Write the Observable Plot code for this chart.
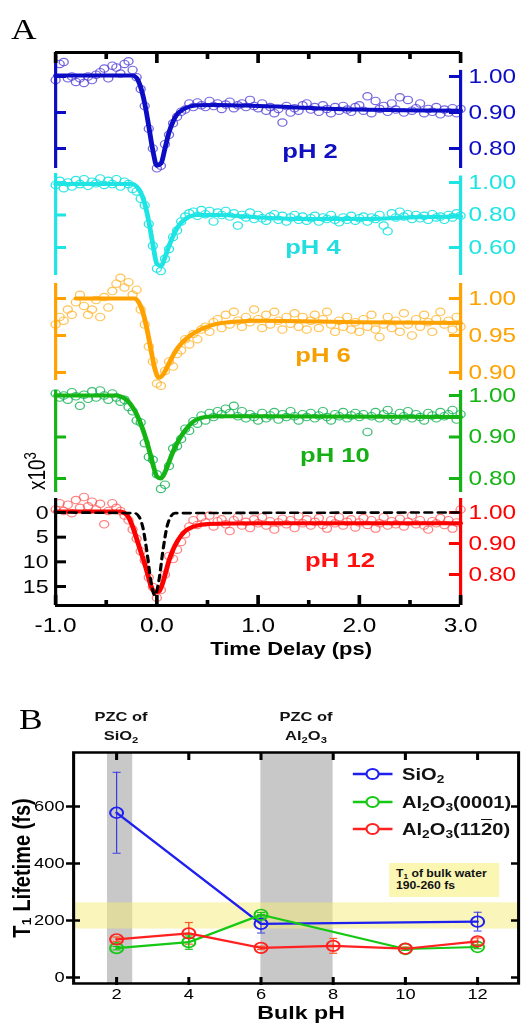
<!DOCTYPE html>
<html><head><meta charset="utf-8">
<script src="https://cdn.jsdelivr.net/npm/d3@7"></script>
<script src="https://cdn.jsdelivr.net/npm/@observablehq/plot@0.6"></script>
<style>
html,body{margin:0;padding:0;background:#fff;overflow:hidden;}
#fig{position:relative;width:428.69px;height:1027px;transform:scaleX(1.22);transform-origin:0 0;font-family:"Liberation Sans",Arial,Helvetica,sans-serif;}
.lbl{position:absolute;white-space:nowrap;}
sub{font-size:0.68em;vertical-align:-0.3em;line-height:0;}
sup{font-size:0.7em;vertical-align:0.55em;line-height:0;}
</style></head>
<body><div id="fig"></div>
<script>
// ---------------- DATA ----------------
const times = [-1.00,-0.96,-0.92,-0.88,-0.84,-0.80,-0.76,-0.72,-0.68,-0.64,
-0.60,-0.56,-0.52,-0.48,-0.44,-0.40,-0.36,-0.32,-0.28,-0.24,
-0.20,-0.16,-0.12,-0.08,-0.04,0.00,0.04,0.08,0.12,0.16,
0.20,0.24,0.28,0.32,0.36,0.40,0.44,0.48,0.52,0.56,
0.60,0.64,0.68,0.72,0.76,0.80,0.84,0.88,0.92,0.96,
1.00,1.04,1.08,1.12,1.16,1.20,1.24,1.28,1.32,1.36,
1.40,1.44,1.48,1.52,1.56,1.60,1.64,1.68,1.72,1.76,
1.80,1.84,1.88,1.92,1.96,2.00,2.04,2.08,2.12,2.16,
2.20,2.24,2.28,2.32,2.36,2.40,2.44,2.48,2.52,2.56,
2.60,2.64,2.68,2.72,2.76,2.80,2.84,2.88,2.92,2.96,
3.00];

const ph2Data = [0.990,1.035,1.040,0.995,1.000,0.985,0.995,0.982,1.000,0.990,
1.005,1.012,1.022,0.995,1.030,1.025,1.008,1.035,1.042,1.018,
0.998,0.965,0.918,0.855,0.800,0.745,0.752,0.812,0.838,0.870,
0.888,0.902,0.908,0.925,0.915,0.928,0.920,0.915,0.932,0.918,
0.925,0.910,0.922,0.930,0.912,0.920,0.925,0.915,0.935,0.918,
0.912,0.925,0.905,0.915,0.898,0.910,0.872,0.918,0.900,0.912,
0.905,0.920,0.925,0.908,0.915,0.902,0.920,0.910,0.898,0.915,
0.905,0.918,0.908,0.902,0.915,0.920,0.905,0.945,0.898,0.932,
0.910,0.918,0.902,0.925,0.908,0.942,0.900,0.935,0.905,0.912,
0.925,0.898,0.910,0.902,0.915,0.895,0.908,0.900,0.912,0.898,
0.910];
const ph4Data = [0.985,1.010,0.965,1.000,0.975,1.015,0.990,1.020,0.980,1.005,
0.995,1.025,0.985,1.010,0.990,1.020,0.975,1.005,0.990,0.960,
0.945,0.900,0.860,0.745,0.610,0.470,0.455,0.530,0.590,0.665,
0.705,0.760,0.790,0.810,0.820,0.795,0.830,0.805,0.825,0.760,
0.815,0.800,0.825,0.790,0.810,0.735,0.800,0.785,0.815,0.775,
0.800,0.780,0.765,0.790,0.805,0.770,0.795,0.760,0.785,0.800,
0.770,0.790,0.765,0.780,0.795,0.760,0.785,0.775,0.800,0.770,
0.755,0.785,0.770,0.795,0.765,0.780,0.790,0.760,0.785,0.775,
0.800,0.735,0.700,0.810,0.785,0.820,0.790,0.805,0.775,0.800,
0.780,0.795,0.770,0.805,0.785,0.790,0.770,0.800,0.785,0.810,
0.795];
const ph6Data = [0.965,0.975,0.970,0.985,0.978,0.995,1.005,0.990,0.978,0.985,
0.998,0.975,1.002,0.988,1.010,1.020,1.028,1.015,1.022,1.005,
1.012,0.985,0.965,0.935,0.915,0.885,0.882,0.902,0.915,0.908,
0.925,0.930,0.945,0.938,0.952,0.945,0.958,0.962,0.955,0.968,
0.972,0.960,0.978,0.965,0.982,0.970,0.962,0.975,0.968,0.985,
0.972,0.960,0.978,0.965,0.982,0.970,0.958,0.975,0.966,0.980,
0.962,0.975,0.958,0.970,0.978,0.960,0.972,0.982,0.965,0.955,
0.970,0.962,0.975,0.958,0.968,0.955,0.972,0.962,0.978,0.958,
0.948,0.965,0.975,0.960,0.970,0.955,0.980,0.965,0.950,0.972,
0.962,0.978,0.968,0.955,0.972,0.982,0.965,0.970,0.958,0.975,
0.962];
const ph10Data = [1.005,0.995,1.000,0.990,1.008,0.998,0.975,1.002,0.992,1.010,
0.995,1.012,1.000,0.990,1.005,0.995,0.985,0.990,0.972,0.962,
0.940,0.935,0.885,0.852,0.845,0.810,0.775,0.785,0.830,0.872,
0.878,0.895,0.920,0.915,0.938,0.932,0.952,0.940,0.958,0.948,
0.962,0.955,0.968,0.958,0.975,0.950,0.962,0.945,0.955,0.948,
0.940,0.958,0.945,0.952,0.960,0.942,0.955,0.948,0.962,0.950,
0.940,0.955,0.948,0.958,0.945,0.952,0.962,0.948,0.940,0.955,
0.950,0.960,0.945,0.952,0.958,0.948,0.955,0.912,0.950,0.960,
0.945,0.955,0.965,0.948,0.940,0.958,0.950,0.962,0.945,0.955,
0.948,0.940,0.958,0.952,0.945,0.960,0.950,0.955,0.965,0.942,
0.955];
const ph12Data = [1.010,1.030,1.005,1.025,0.998,1.040,1.015,1.050,1.020,1.035,
1.010,1.028,0.962,1.005,1.030,1.015,1.005,0.990,0.975,0.945,
0.915,0.875,0.845,0.790,0.760,0.725,0.750,0.800,0.860,0.850,
0.880,0.905,0.930,0.955,0.975,0.960,0.985,0.968,0.990,0.955,
0.972,0.978,0.962,0.940,0.975,0.985,0.958,0.970,0.950,0.978,
0.965,0.985,0.958,0.972,0.945,0.968,0.980,0.962,0.975,0.950,
0.988,0.965,0.978,0.958,0.970,0.982,0.960,0.948,0.975,0.965,
0.985,0.958,0.970,0.978,0.952,0.968,0.982,0.960,0.975,0.948,
0.965,0.985,0.958,0.972,0.962,0.980,0.955,0.970,0.990,0.962,
0.975,0.958,0.945,0.972,0.965,0.982,0.960,0.975,0.948,0.968,
1.010];

// fitted curves (knots)
const fit2T = [-1,-0.24,-0.2,-0.16,-0.12,-0.08,-0.04,0,0.04,0.08,0.12,0.16,0.2,0.24,0.28,0.32,0.4,0.6,1.0,2.0,3.0];
const fit2V = [1.003,1.003,0.996,0.97,0.925,0.862,0.795,0.752,0.758,0.80,0.845,0.875,0.895,0.905,0.912,0.916,0.92,0.921,0.918,0.908,0.905];
const fit4T = [-1,-0.24,-0.2,-0.16,-0.12,-0.08,-0.04,0,0.04,0.08,0.12,0.16,0.2,0.24,0.28,0.32,0.4,0.6,1.0,1.5,2.0,2.5,3.0];
const fit4V = [0.99,0.99,0.975,0.94,0.87,0.76,0.62,0.5,0.485,0.54,0.61,0.67,0.72,0.752,0.775,0.79,0.80,0.80,0.785,0.775,0.775,0.785,0.79];
const fit6T = [-0.8,-0.22,-0.18,-0.14,-0.1,-0.06,-0.02,0.02,0.06,0.1,0.14,0.2,0.26,0.32,0.4,0.5,0.6,0.8,1.0,2.0,3.0];
const fit6V = [1.0,1.0,0.995,0.982,0.96,0.932,0.905,0.893,0.897,0.907,0.918,0.932,0.942,0.949,0.956,0.962,0.966,0.969,0.97,0.968,0.967];
const fit10T = [-1,-0.4,-0.36,-0.32,-0.28,-0.24,-0.2,-0.16,-0.12,-0.08,-0.04,0,0.04,0.08,0.12,0.16,0.2,0.24,0.28,0.32,0.36,0.4,0.48,0.6,1.0,3.0];
const fit10V = [1.0,1.0,0.998,0.993,0.985,0.972,0.955,0.932,0.905,0.872,0.835,0.805,0.80,0.815,0.84,0.865,0.885,0.902,0.916,0.928,0.937,0.943,0.948,0.95,0.95,0.948];
const fit12T = [-1,-0.36,-0.32,-0.28,-0.24,-0.21,-0.17,-0.13,-0.09,-0.06,-0.02,0.02,0.06,0.09,0.12,0.16,0.2,0.24,0.28,0.32,0.4,0.5,1.0,3.0];
const fit12V = [1.003,1.003,0.998,0.985,0.955,0.926,0.885,0.845,0.80,0.765,0.742,0.745,0.775,0.81,0.845,0.88,0.906,0.926,0.94,0.949,0.958,0.963,0.965,0.965];
// instrument response (dashed, left axis x10^3)
const irfT = [-1,-0.22,-0.18,-0.14,-0.10,-0.06,-0.02,0.02,0.06,0.10,0.14,0.18,3];
const irfV = [0,0.13,0.74,2.9,7.7,13.8,16.8,13.8,7.7,2.9,0.74,0.13,0];

const timeTicksMajor = [-1,0,1,2,3];
const timeTickLabels = ["-1.0","0.0","1.0","2.0","3.0"];
const timeTicksMinor = [-0.5,0.5,1.5,2.5];

// Panel B
const sio2PH = [2,6,12];
const sio2T1 = [578,188,196];
const sio2Err = [142,32,33];
const a0001PH = [2,4,6,10,12];
const a0001T1 = [103,124,220,100,107];
const a0001Err = [6,25,8,5,6];
const a1120PH = [2,4,6,8,10,12];
const a1120T1 = [134,155,104,111,101,127];
const a1120Err = [8,38,6,26,6,12];
const pzcLo = [1.75,6];
const pzcHi = [2.45,8];
const bulkLo = 170, bulkHi = 262;
const phTicks = [2,4,6,8,10,12];
const t1Ticks = [0,200,400,600];

// ---------------- LAYOUT ----------------
const fig = document.getElementById("fig");
const S = 1.22;
const W = 523 / S;
const X = px => px / S;
const FONT = '"Liberation Sans", Arial, Helvetica, sans-serif';
const AX_L = 55, AX_R = 460;
const innerA = X(AX_R - AX_L);
const svgStyle = {background: "transparent", overflow: "visible", fontFamily: FONT, position: "absolute", left: "0px"};

function place(svg, top) { svg.style.top = top + "px"; fig.appendChild(svg); }
function html(str, css) { const d = document.createElement("div"); d.className = "lbl"; d.innerHTML = str; Object.assign(d.style, css); fig.appendChild(d); return d; }

function subPanel(p) {
  const pad = 30;
  const rows = times.map((t, i) => ({t, v: p.data[i]}));
  const fit = p.fitT.map((t, i) => ({t, v: p.fitV[i]}));
  const tk = p.ticks.map((v, i) => ({v, s: p.tickText[i]}));
  const tl = X(11);
  const marks = [
    Plot.dot(rows, {x: "t", y: "v", r: 3.7, stroke: p.dot, strokeOpacity: p.dotOpacity, strokeWidth: 1.1, fill: "none"}),
    Plot.line(fit, {x: "t", y: "v", stroke: p.color, strokeWidth: 4, curve: "monotone-x"}),
    Plot.ruleX([{x: 3, y1: p.rightTop, y2: p.lo}], {x: "x", y1: "y1", y2: "y2", stroke: p.color, strokeWidth: 2.6}),
    Plot.tickY(tk, {y: "v", stroke: p.color, strokeWidth: 3, insetLeft: innerA - tl}),
    Plot.text(tk, {y: "v", text: "s", frameAnchor: "right", dx: X(8), textAnchor: "start", fill: p.color, fontSize: 20})
  ];
  if (p.leftAxis) marks.push(
    Plot.ruleX([-1], {stroke: p.color, strokeWidth: 2.6}),
    Plot.tickY(tk, {y: "v", stroke: p.color, strokeWidth: 3, insetRight: innerA - tl})
  );
  const svg = Plot.plot({
    width: W, height: p.bottom - p.top + 2 * pad,
    marginTop: pad, marginBottom: pad, marginLeft: X(AX_L), marginRight: W - X(AX_R),
    x: {domain: [-1, 3], axis: null},
    y: {domain: [p.lo, p.hi], axis: null},
    style: svgStyle,
    marks
  });
  place(svg, p.top - pad);
}

subPanel({top: 55, bottom: 168, lo: 0.7444, hi: 1.0583, rightTop: 1.017, data: ph2Data, fitT: fit2T, fitV: fit2V,
  color: "#0c0cc4", dot: "#5444d8", dotOpacity: 0.8, ticks: [1.0, 0.9, 0.8], tickText: ["1.00","0.90","0.80"], leftAxis: true});
subPanel({top: 173, bottom: 275, lo: 0.4277, hi: 1.0554, rightTop: 1.04, data: ph4Data, fitT: fit4T, fitV: fit4V,
  color: "#1ee4e4", dot: "#1ee4e4", dotOpacity: 0.95, ticks: [1.0, 0.8, 0.6], tickText: ["1.00","0.80","0.60"], leftAxis: true});
subPanel({top: 283, bottom: 380, lo: 0.8892, hi: 1.0203, rightTop: 1.0203, data: ph6Data, fitT: fit6T, fitV: fit6V,
  color: "#ffa200", dot: "#ffb020", dotOpacity: 0.75, ticks: [1.0, 0.95, 0.9], tickText: ["1.00","0.95","0.90"], leftAxis: true});
subPanel({top: 390, bottom: 492, lo: 0.7663, hi: 1.012, rightTop: 1.012, data: ph10Data, fitT: fit10T, fitV: fit10V,
  color: "#14b414", dot: "#1cb45a", dotOpacity: 0.85, ticks: [1.0, 0.9, 0.8], tickText: ["1.00","0.90","0.80"], leftAxis: true});
subPanel({top: 498, bottom: 605, lo: 0.70, hi: 1.0452, rightTop: 1.0452, data: ph12Data, fitT: fit12T, fitV: fit12V,
  color: "#ff0000", dot: "#ff4c4c", dotOpacity: 0.7, ticks: [1.0, 0.9, 0.8], tickText: ["1.00","0.90","0.80"], leftAxis: false});

// IRF overlay with left black axis (x10^3, inverted)
{
  const pad = 30, top = 498, bottom = 605;
  const irf = irfT.map((t, i) => ({t, v: irfV[i]}));
  const lt = [0, 5, 10, 15].map(v => ({v, s: String(v)}));
  const svg = Plot.plot({
    width: W, height: bottom - top + 2 * pad,
    marginTop: pad, marginBottom: pad, marginLeft: X(AX_L), marginRight: W - X(AX_R),
    x: {domain: [-1, 3], axis: null},
    y: {domain: [18.85, -2.84], axis: null},
    style: svgStyle,
    marks: [
      Plot.line(irf, {x: "t", y: "v", stroke: "#000", strokeWidth: 2.6, strokeDasharray: "6,5", curve: "monotone-x"}),
      Plot.ruleX([-1], {stroke: "#000", strokeWidth: 2.6}),
      Plot.tickY(lt, {y: "v", stroke: "#000", strokeWidth: 3, insetRight: innerA - X(11)}),
      Plot.text(lt, {y: "v", text: "s", frameAnchor: "left", dx: -X(7), textAnchor: "end", fill: "#000", fontSize: 19})
    ]
  });
  place(svg, top - pad);
}

// Panel A frame: top line, bottom time axis
{
  const top = 52, bottom = 605, pad = 10, mb = 80;
  const innerH = bottom - top;
  const maj = timeTicksMajor.map((x, i) => ({x, s: timeTickLabels[i]}));
  const svg = Plot.plot({
    width: W, height: innerH + pad + mb,
    marginTop: pad, marginBottom: mb, marginLeft: X(AX_L), marginRight: W - X(AX_R),
    x: {domain: [-1, 3], axis: null},
    y: {domain: [0, 1], axis: null},
    style: svgStyle,
    marks: [
      Plot.ruleY([1], {stroke: "#000", strokeWidth: 3}),
      Plot.ruleY([0], {stroke: "#000", strokeWidth: 3}),
      Plot.tickX(maj, {x: "x", stroke: "#000", strokeWidth: 3, insetBottom: innerH - 11}),
      Plot.tickX(timeTicksMinor, {x: d => d, stroke: "#000", strokeWidth: 3, insetBottom: innerH - 7}),
      Plot.tickX(maj, {x: "x", stroke: "#000", strokeWidth: 3, insetTop: innerH - 10}),
      Plot.tickX(timeTicksMinor, {x: d => d, stroke: "#000", strokeWidth: 3, insetTop: innerH - 5}),
      Plot.text(maj, {x: "x", text: "s", frameAnchor: "bottom", textAnchor: "middle", dy: 27, fontSize: 20, fill: "#000"}),
      Plot.text(["Time Delay (ps)"], {frameAnchor: "bottom", textAnchor: "middle", dx: X(33), dy: 50, fontSize: 18, fontWeight: "bold", fill: "#000"})
    ]
  });
  place(svg, top - pad);
}

// pH labels and annotations of panel A
const phLabels = [["pH 2", 310, 151, "#1010c0"], ["pH 4", 313, 247, "#22dede"], ["pH 6", 323, 355, "#f5a000"], ["pH 10", 335, 455, "#16b016"], ["pH 12", 340, 560, "#ff1010"]];
for (const [t, x, y, c] of phLabels) html(t, {left: X(x) + "px", top: y + "px", transform: "translate(-50%,-50%)", fontWeight: "bold", fontSize: "21px", color: c});
html("x10<sup>3</sup>", {left: X(38) + "px", top: "471px", transform: "translate(-50%,-50%) rotate(-90deg)", fontSize: "19px", color: "#000"});
html("A", {left: X(11) + "px", top: "15px", fontFamily: '"Liberation Serif","Times New Roman",serif', fontSize: "29px", lineHeight: "29px", color: "#000"});
html("B", {left: X(19) + "px", top: "705px", fontFamily: '"Liberation Serif","Times New Roman",serif', fontSize: "29px", lineHeight: "29px", color: "#000"});

// ---------------- PANEL B ----------------
{
  const top = 690, iTop = 752, iBot = 983, L = 73, R = 518;
  const height = 1027 - top, mt = iTop - top, mb = 1027 - iBot;
  const innerH = iBot - iTop, innerW = X(R - L);
  const colors = {s: "#1f1ff0", g: "#14c814", r: "#ff2020"};
  const mk = (ph, t1, er) => ph.map((x, i) => ({x, y: t1[i], e: er[i]}));
  const sio2 = mk(sio2PH, sio2T1, sio2Err), g = mk(a0001PH, a0001T1, a0001Err), r = mk(a1120PH, a1120T1, a1120Err);
  const cap = {draw(ctx) { ctx.moveTo(-3.3, 0); ctx.lineTo(3.3, 0); }};
  const series = (rows, c, ew) => [
    Plot.ruleX(rows, {x: "x", y1: d => d.y - d.e, y2: d => d.y + d.e, stroke: c, strokeWidth: ew}),
    Plot.dot(rows, {x: "x", y: d => d.y + d.e, symbol: cap, stroke: c, strokeWidth: ew, fill: "none"}),
    Plot.dot(rows, {x: "x", y: d => d.y - d.e, symbol: cap, stroke: c, strokeWidth: ew, fill: "none"})
  ];
  const lines = (rows, c) => [
    Plot.line(rows, {x: "x", y: "y", stroke: c, strokeWidth: 2.2}),
    Plot.dot(rows, {x: "x", y: "y", r: 5.3, stroke: c, strokeWidth: 1.7, fill: "none"})
  ];
  const bands = pzcLo.map((lo, i) => ({lo, hi: pzcHi[i]}));
  const svg = Plot.plot({
    width: W, height, marginTop: mt, marginBottom: mb, marginLeft: X(L), marginRight: W - X(R),
    x: {domain: [0.809, 13.136], axis: null},
    y: {domain: [-21, 789.5], axis: null},
    style: svgStyle,
    marks: [
      Plot.rect(bands, {x1: "lo", x2: "hi", fill: "#c8c8c8"}),
      Plot.rect([{lo: bulkLo, hi: bulkHi}], {y1: "lo", y2: "hi", fill: "#f3ec78", fillOpacity: 0.5}),
      Plot.tickX(phTicks, {x: d => d, stroke: "#000", strokeWidth: 2.5, insetBottom: innerH - 8}),
      Plot.tickX(phTicks, {x: d => d, stroke: "#000", strokeWidth: 2.5, insetTop: innerH - 6, insetBottom: -2}),
      Plot.tickY(t1Ticks, {y: d => d, stroke: "#000", strokeWidth: 2.5, insetRight: innerW - X(7), insetLeft: -X(7)}),
      Plot.tickY(t1Ticks, {y: d => d, stroke: "#000", strokeWidth: 2.5, insetLeft: innerW - X(7)}),
      Plot.frame({stroke: "#000", strokeWidth: 2.5}),
      Plot.text(phTicks, {x: d => d, text: d => String(d), frameAnchor: "bottom", textAnchor: "middle", dy: 16, fontSize: 15, fill: "#000"}),
      Plot.text(t1Ticks, {y: d => d, text: d => String(d), frameAnchor: "left", dx: -X(9), textAnchor: "end", fontSize: 15, fill: "#000"}),
      Plot.text(["Bulk pH"], {frameAnchor: "bottom", textAnchor: "middle", dx: X(5), dy: 36, fontSize: 19, fontWeight: "bold", fill: "#000"}),
      Plot.text(["T\u2081 Lifetime (fs)"], {frameAnchor: "left", textAnchor: "middle", dx: -X(51), rotate: -90, fontSize: 20, fontWeight: "bold", fill: "#000"}),
      ...series(sio2, "#3a3ae8", 1),
      ...series(r, "#ff5a28", 1.2),
      ...series(g, colors.g, 1.2),
      ...lines(sio2, colors.s),
      ...lines(g, colors.g),
      ...lines(r, colors.r)
    ]
  });
  place(svg, top);

  // legend
  const leg = [["SiO<sub>2</sub>", colors.s, 774], ["Al<sub>2</sub>O<sub>3</sub>(0001)", colors.g, 802], ["Al<sub>2</sub>O<sub>3</sub>(11<span style='text-decoration:overline'>2</span>0)", colors.r, 829]];
  for (const [t, c, y] of leg) {
    html(`<svg width="${X(40)}" height="14" style="display:block"><line x1="0" x2="${X(40)}" y1="7" y2="7" stroke="${c}" stroke-width="2.6"/><circle cx="${X(20)}" cy="7" r="5" fill="#fff" stroke="${c}" stroke-width="1.8"/></svg>`,
      {left: X(353) + "px", top: (y - 7) + "px"});
    html(t, {left: X(402) + "px", top: (y - 11) + "px", fontSize: "16.5px", fontWeight: "bold", lineHeight: "22px", color: "#111"});
  }
  html("T<sub>1</sub> of bulk water<br>190-260 fs", {left: X(389) + "px", top: "863px", width: X(110) + "px", height: "34px", background: "#fbf7b2",
    fontWeight: "bold", fontSize: "10px", lineHeight: "12px", padding: "5px 0 0 " + X(7) + "px", boxSizing: "border-box", color: "#111"});
  html("PZC of<br>SiO<sub>2</sub>", {left: X(121) + "px", top: "707px", transform: "translateX(-50%)", textAlign: "center", fontWeight: "bold", fontSize: "13.5px", lineHeight: "19px", color: "#111"});
  html("PZC of<br>Al<sub>2</sub>O<sub>3</sub>", {left: X(306) + "px", top: "707px", transform: "translateX(-50%)", textAlign: "center", fontWeight: "bold", fontSize: "13.5px", lineHeight: "19px", color: "#111"});
}
</script>
</body></html>
